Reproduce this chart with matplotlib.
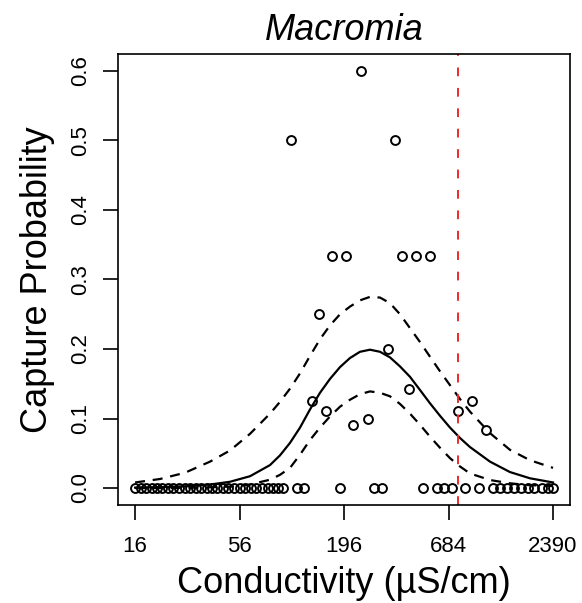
import numpy as np
import matplotlib.pyplot as plt

plt.rcParams['font.family'] = ['Liberation Sans', 'DejaVu Sans']

# observed capture probabilities vs ln(conductivity, uS/cm)
obs_log_cond = [4.641, 5.135, 5.300, 5.476, 5.890, 5.970, 6.138, 6.305,
                4.976, 4.896, 5.060, 5.806, 6.054, 5.387, 5.559, 6.637,
                6.805, 6.973,
                2.773, 2.84, 2.90, 2.97, 3.04, 3.10, 3.17, 3.23, 3.30, 3.37,
                3.43, 3.50, 3.56, 3.63, 3.70, 3.76, 3.83, 3.89, 3.96, 4.03,
                4.09, 4.16, 4.22, 4.29, 4.36, 4.42, 4.49, 4.55,
                4.713, 4.797, 5.222, 5.638, 5.727, 6.225, 6.386, 6.477, 6.565,
                6.725, 6.892, 7.056, 7.144, 7.224, 7.311, 7.392, 7.475, 7.555,
                7.643, 7.723, 7.779]
obs_prob = [0.5, 1/3, 1/3, 0.6, 0.5, 1/3, 1/3, 1/3,
            0.25, 0.125, 1/9, 0.2, 1/7, 1/11, 0.1, 1/9,
            0.125, 1/12] + [0.0] * 49

# fitted curve and confidence band
fit_log_cond = [2.773, 3.072, 3.371, 3.671, 3.910, 4.150, 4.389, 4.509, 4.629,
                4.749, 4.868, 4.988, 5.108, 5.228, 5.347, 5.467, 5.587, 5.707,
                5.826, 5.946, 6.066, 6.186, 6.305, 6.425, 6.545, 6.665, 6.784,
                7.024, 7.263, 7.503, 7.779]
fit_mid = [0.0006, 0.0012, 0.0025, 0.005, 0.009, 0.017, 0.033, 0.047, 0.065,
           0.087, 0.113, 0.137, 0.157, 0.174, 0.187, 0.196, 0.199, 0.196,
           0.188, 0.175, 0.160, 0.141, 0.122, 0.104, 0.087, 0.072, 0.059,
           0.038, 0.023, 0.014, 0.008]
fit_upper = [0.008, 0.013, 0.022, 0.038, 0.054, 0.078, 0.107, 0.124, 0.143,
             0.165, 0.190, 0.214, 0.234, 0.250, 0.261, 0.270, 0.275, 0.274,
             0.266, 0.250, 0.230, 0.210, 0.189, 0.168, 0.148, 0.128, 0.110,
             0.079, 0.055, 0.040, 0.029]
fit_lower = [0.0, 0.0001, 0.0003, 0.001, 0.002, 0.005, 0.012, 0.019, 0.029,
             0.048, 0.069, 0.087, 0.103, 0.117, 0.127, 0.135, 0.139, 0.137,
             0.132, 0.121, 0.107, 0.091, 0.074, 0.058, 0.043, 0.031, 0.021,
             0.0115, 0.0068, 0.004, 0.003]

threshold_log_cond = 6.637
tick_labels = [16, 56, 196, 684, 2390]
y_ticks = [0.0, 0.1, 0.2, 0.3, 0.4, 0.5, 0.6]

fig = plt.figure(figsize=(5.82, 6.03), dpi=100)
ax = fig.add_axes([0.2033, 0.163, 0.7756, 0.747])

ax.plot(obs_log_cond, obs_prob, 'o', mfc='none', mec='black', ms=6.4, mew=1.4)
ax.plot(fit_log_cond, fit_mid, color='black', lw=1.6)
ax.plot(fit_log_cond, fit_upper, color='black', lw=1.6, ls=(0, (4.5, 3.5)))
ax.plot(fit_log_cond, fit_lower, color='black', lw=1.6, ls=(0, (4.5, 3.5)))
ax.axvline(threshold_log_cond, color='#ee2a2a', lw=1.4, ls=(0, (4.5, 6)))

x0, x1 = np.log(tick_labels[0]), np.log(tick_labels[-1])
pad = 0.04 * (x1 - x0)
ax.set_xlim(x0 - pad, x1 + pad)
ax.set_ylim(-0.024, 0.624)

ax.set_xticks(np.log(tick_labels))
ax.set_xticklabels([str(t) for t in tick_labels])
ax.set_yticks(y_ticks)
ax.set_yticklabels([f'{v:.1f}' for v in y_ticks], rotation=90, va='center')
ax.tick_params(axis='both', length=10.8, width=1.2, labelsize=16, direction='out')
ax.tick_params(axis='x', pad=12)
ax.tick_params(axis='y', pad=9)
for s in ax.spines.values():
    s.set_linewidth(1.2)

ax.set_title('Macromia', fontsize=26, style='italic', pad=10)
ax.set_xlabel('Conductivity (µS/cm)', fontsize=26)
ax.set_ylabel('Capture Probability', fontsize=26)
ax.xaxis.label.set_va('center')
ax.xaxis.set_label_coords(0.5, -0.174)
ax.yaxis.label.set_va('center')
ax.yaxis.set_label_coords(-0.180, 0.5)

fig.savefig('out.png', dpi=100)
